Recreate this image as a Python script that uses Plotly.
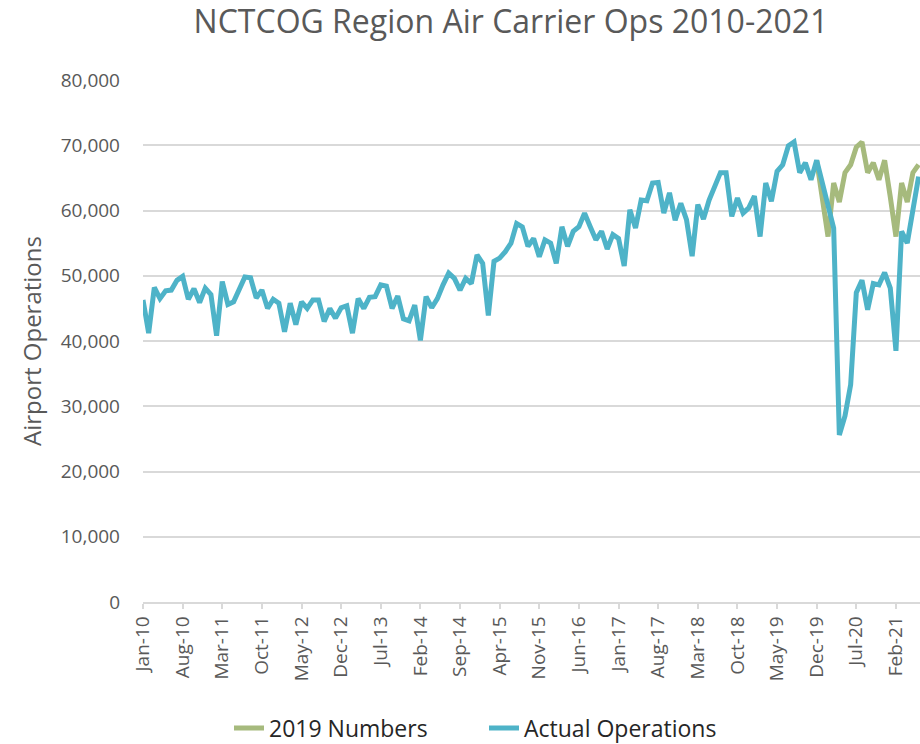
import pandas as pd
import plotly.graph_objects as go

# Monthly categories Jan-10 .. Jun-21
months = list(pd.date_range("2010-01-01", periods=138, freq="MS").strftime("%b-%y"))

actual_operations = [
    46300, 41200, 48200, 46500, 47700, 47800, 49300, 49900, 46400, 48000, 45900, 48100,  # 2010
    47100, 40800, 49100, 45600, 46000, 48100, 49800, 49700, 46600, 47800, 45000, 46400,  # 2011
    45800, 41400, 45800, 42500, 46000, 45000, 46300, 46300, 43000, 45000, 43500, 45100,  # 2012
    45400, 41200, 46500, 45000, 46700, 46800, 48600, 48400, 45000, 46900, 43400, 43100,  # 2013
    45500, 40100, 46800, 45100, 46500, 48600, 50400, 49600, 47800, 49600, 48800, 53200,  # 2014
    51900, 43900, 52200, 52700, 53700, 55000, 58000, 57500, 54500, 55700, 52900, 55500,  # 2015
    55000, 51900, 57500, 54500, 56800, 57500, 59600, 57500, 55500, 56800, 54100, 56300,  # 2016
    55700, 51500, 60100, 57300, 61600, 61500, 64200, 64300, 59600, 62700, 58500, 61100,  # 2017
    58600, 53000, 60900, 58700, 61600, 63700, 65800, 65800, 59100, 61900, 59600, 60400,  # 2018
    62200, 56000, 64200, 61400, 66000, 67000, 69900, 70500, 65800, 67300, 64700, 67700,  # 2019
    64000, 60500, 57300, 25600, 28500, 33300, 47400, 49300, 44800, 48800, 48600, 50500,  # 2020
    48100, 38500, 56800, 55000, 60300, 65200,                                            # 2021
]

# "2019 Numbers" series, shown from Dec-19 onward
numbers_2019_months = months[119:138]
numbers_2019 = [
    67700,                                                                               # Dec-19
    62200, 56000, 64200, 61300, 65800, 67000, 69700, 70500, 65800, 67300, 64700, 67700,  # 2020
    62100, 56000, 64200, 61300, 65800, 67000,                                            # 2021
]

tick_labels = ["Jan-10", "Aug-10", "Mar-11", "Oct-11", "May-12", "Dec-12", "Jul-13",
               "Feb-14", "Sep-14", "Apr-15", "Nov-15", "Jun-16", "Jan-17", "Aug-17",
               "Mar-18", "Oct-18", "May-19", "Dec-19", "Jul-20", "Feb-21"]

GREEN = "#A6BA7D"
BLUE = "#4EB3C8"
GRID = "#D9D9D9"
TXT = "#595959"
FONT = "Open Sans"

fig = go.Figure()
fig.add_trace(go.Scatter(x=numbers_2019_months, y=numbers_2019, mode="lines",
                         name="2019 Numbers", line=dict(color=GREEN, width=5)))
fig.add_trace(go.Scatter(x=months, y=actual_operations, mode="lines",
                         name="Actual Operations", line=dict(color=BLUE, width=5)))

fig.update_layout(
    width=920, height=744,
    margin=dict(l=143, r=0, t=80, b=142),
    paper_bgcolor="white", plot_bgcolor="white",
    font=dict(family=FONT, color=TXT, size=19),
    title=dict(text="NCTCOG Region Air Carrier Ops 2010-2021",
               x=511 / 920, xref="container", xanchor="center",
               y=1 - 22 / 744, yref="container", yanchor="middle",
               font=dict(family=FONT, size=32, color=TXT)),
    legend=dict(orientation="h", xref="container", yref="container",
                x=484 / 920, xanchor="center", y=1 - 728 / 744, yanchor="middle",
                font=dict(family=FONT, size=23, color="#262626"),
                entrywidth=210, tracegroupgap=0),
    showlegend=True,
)

fig.update_xaxes(
    type="category", categoryorder="array", categoryarray=months,
    range=[0, 137.25],
    tickmode="array", tickvals=tick_labels, ticktext=tick_labels,
    tickangle=-90, tickfont=dict(family=FONT, size=19, color=TXT),
    ticks="outside", ticklen=5, tickcolor=GRID, tickwidth=1.5,
    showline=True, linecolor=GRID, linewidth=1.5,
    showgrid=False, zeroline=False,
)
fig.update_yaxes(
    range=[0, 80000], dtick=10000, tickformat=",",
    tickfont=dict(family=FONT, size=19, color=TXT),
    showgrid=True, gridcolor=GRID, gridwidth=1.5,
    zeroline=False, showline=False,
    ticklabelstandoff=22,
    title=dict(text="Airport Operations", standoff=12,
               font=dict(family=FONT, size=24, color=TXT)),
)

fig.write_html("out.html",
               config={"displayModeBar": False},
               post_script="document.body.style.margin='0';document.body.style.padding='0';")
